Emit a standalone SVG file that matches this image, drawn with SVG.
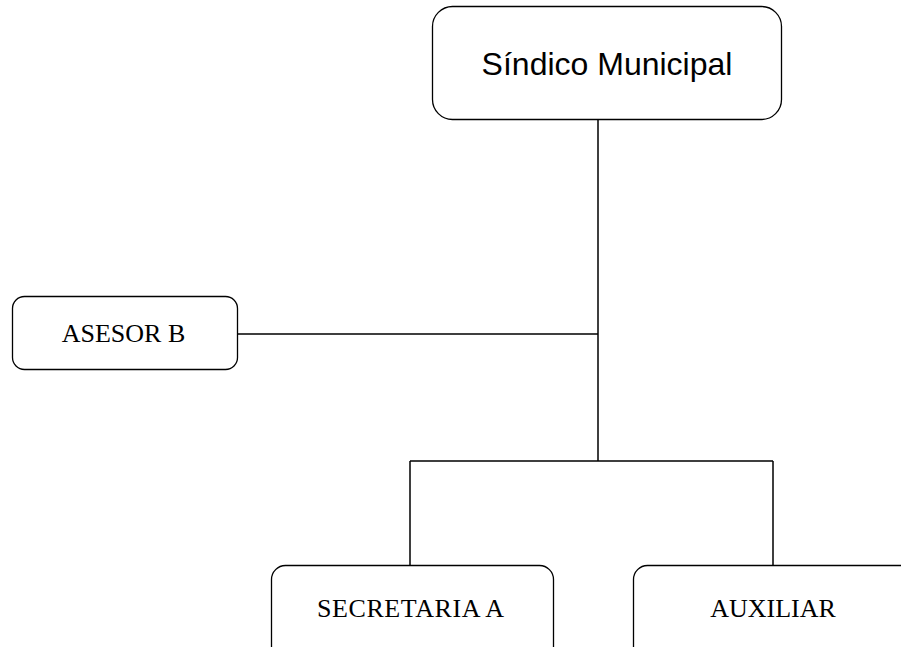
<svg xmlns="http://www.w3.org/2000/svg" width="901" height="647" viewBox="0 0 901 647">
<style>
.box{fill:#fff;stroke:#000;stroke-width:1.3}
.conn{stroke:#000;stroke-width:1.5;fill:none}
.t{font-family:"Liberation Serif","Times New Roman",serif;font-size:26px;fill:#000;text-anchor:middle}
.h{font-family:"Liberation Sans",Arial,sans-serif;font-size:32px;fill:#000;text-anchor:middle}
</style>
<rect width="901" height="647" fill="#fff"/>
<g id="connectors">
<path class="conn" d="M598 119V461M237 334H598M410 461H773M410 461V565M773 461V565"/>
</g>
<g id="sindico">
<rect class="box" x="432.5" y="6.5" width="349" height="113" rx="20"/>
<text class="h" x="607" y="75">Síndico Municipal</text>
</g>
<g id="asesor">
<rect class="box" x="12.5" y="296.5" width="225" height="73" rx="12"/>
<text class="t" x="123.5" y="342">ASESOR B</text>
</g>
<g id="secretaria">
<rect class="box" x="271.5" y="565.5" width="282" height="100" rx="14"/>
<text class="t" x="410.5" y="617" textLength="187" lengthAdjust="spacing">SECRETARIA A</text>
</g>
<g id="auxiliar">
<rect class="box" x="633.5" y="565.5" width="300" height="100" rx="14"/>
<text class="t" x="773" y="617">AUXILIAR</text>
</g>
</svg>
